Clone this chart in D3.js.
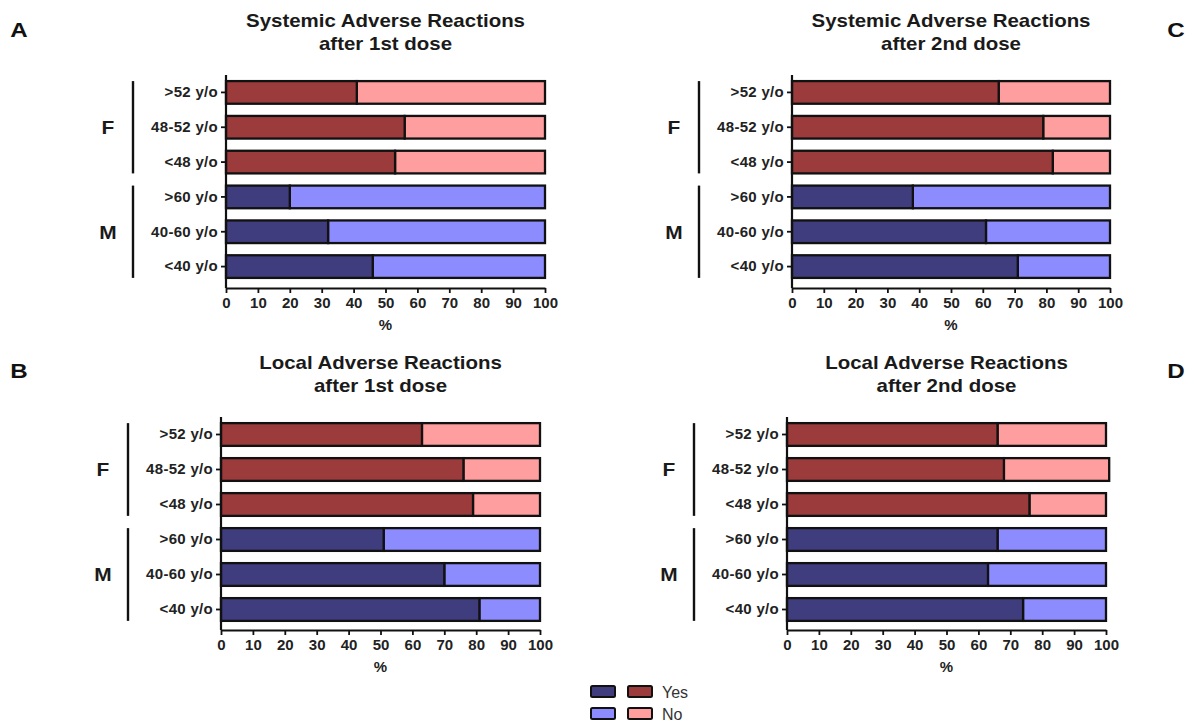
<!DOCTYPE html>
<html>
<head>
<meta charset="utf-8">
<script src="https://cdn.jsdelivr.net/npm/d3@7/dist/d3.min.js"></script>
<style>
  html, body { margin: 0; padding: 0; background: #fff; }
  svg { display: block; font-family: "Liberation Sans", Arial, Helvetica, sans-serif; }
</style>
</head>
<body>
<svg id="chart" width="1194" height="727"></svg>
<script>
// Age groups, top to bottom, and the sex each group belongs to
const ageGroups = [">52 y/o", "48-52 y/o", "<48 y/o", ">60 y/o", "40-60 y/o", "<40 y/o"];
const sexOfGroup = ["F", "F", "F", "M", "M", "M"];
const sexes = ["F", "M"];
const xTicks = [0, 10, 20, 30, 40, 50, 60, 70, 80, 90, 100];

// Percent reporting reactions (Yes) and not (No) per age group
const systemic1Yes = [41, 56, 53, 20, 32, 46];
const systemic1No  = [59, 44, 47, 80, 68, 54];
const local1Yes    = [63, 76, 79, 51, 70, 81];
const local1No     = [37, 24, 21, 49, 30, 19];
const systemic2Yes = [65, 79, 82, 38, 61, 71];
const systemic2No  = [35, 21, 18, 62, 39, 29];
const local2Yes    = [66, 68, 76, 66, 63, 74];
const local2No     = [34, 33, 24, 34, 37, 26];

const legendLabels = ["Yes", "No"];

const colors = {
  F: { yes: "#9c3b3c", no: "#ff9e9e" },
  M: { yes: "#403d7e", no: "#8c8cff" }
};

const svg = d3.select("#chart");
const FONT = "Liberation Sans, Arial, sans-serif";

function drawPanel(opt) {
  const g = svg.append("g");
  const x = d3.scaleLinear().domain([0, 100]).range([opt.x0, opt.x1]);
  const y = d3.scaleBand().domain(ageGroups).range([opt.yTop, opt.yBottom]).paddingInner(0.35).paddingOuter(0.175);

  // panel letter
  g.append("text").attr("transform", `translate(${opt.letterX},${opt.letterY}) scale(1.15,1)`)
    .attr("font-size", 21).attr("font-weight", "bold").attr("text-anchor", "middle")
    .attr("fill", "#111").text(opt.letter);

  // title, two lines (wide bold lettering)
  const tcx = (opt.x0 + opt.x1) / 2;
  opt.title.forEach((line, i) => {
    g.append("text").attr("transform", `translate(${tcx},${opt.titleY + i * 23}) scale(1.17,1)`)
      .attr("font-size", 17.5).attr("font-weight", "bold").attr("text-anchor", "middle")
      .attr("fill", "#1a1a1a").text(line);
  });

  // stacked bars
  const rows = ageGroups.map((a, i) => ({ age: a, sex: sexOfGroup[i], yes: opt.yes[i], no: opt.no[i] }));
  const bar = g.append("g").selectAll("g").data(rows).join("g");
  bar.append("rect")
    .attr("x", d => x(d.yes)).attr("y", d => y(d.age))
    .attr("width", d => x(d.yes + d.no) - x(d.yes)).attr("height", y.bandwidth())
    .attr("fill", d => colors[d.sex].no).attr("stroke", "#111").attr("stroke-width", 2.3);
  bar.append("rect")
    .attr("x", x(0)).attr("y", d => y(d.age))
    .attr("width", d => x(d.yes) - x(0)).attr("height", y.bandwidth())
    .attr("fill", d => colors[d.sex].yes).attr("stroke", "#111").attr("stroke-width", 2.3);

  // x axis
  const xAxis = g.append("g").attr("transform", `translate(0,${opt.axisY})`)
    .call(d3.axisBottom(x).tickValues(xTicks).tickSize(5).tickSizeOuter(0).tickFormat(d3.format("d")));
  xAxis.select(".domain").attr("stroke", "#111").attr("stroke-width", 2.2);
  xAxis.selectAll(".tick line").attr("stroke", "#111").attr("stroke-width", 1.8);
  xAxis.selectAll(".tick text").attr("font-size", 15).attr("font-weight", "bold")
    .attr("fill", "#222").attr("dy", "0.78em").style("font-family", FONT);

  g.append("text").attr("x", tcx).attr("y", opt.axisY + 42)
    .attr("font-size", 15).attr("font-weight", "bold").attr("text-anchor", "middle")
    .attr("fill", "#222").text("%");

  // y axis
  const yAxis = g.append("g").attr("transform", `translate(${opt.x0},0)`)
    .call(d3.axisLeft(y).tickSize(5).tickSizeOuter(0));
  yAxis.select(".domain").attr("d", `M0,${opt.yTop}V${opt.axisY}`)
    .attr("stroke", "#111").attr("stroke-width", 2.2);
  yAxis.selectAll(".tick line").attr("stroke", "#111").attr("stroke-width", 1.8);
  yAxis.selectAll(".tick text").attr("font-size", 15).attr("font-weight", "bold")
    .attr("fill", "#222").attr("x", -8).attr("letter-spacing", 0.3).style("font-family", FONT);

  // sex brackets with labels
  sexes.forEach(s => {
    const groups = ageGroups.filter((a, i) => sexOfGroup[i] === s);
    const top = y(groups[0]);
    const bottom = y(groups[groups.length - 1]) + y.bandwidth();
    g.append("line").attr("x1", opt.x0 - 93).attr("x2", opt.x0 - 93)
      .attr("y1", top).attr("y2", bottom)
      .attr("stroke", "#111").attr("stroke-width", 2.4);
    g.append("text").attr("transform", `translate(${opt.x0 - 118},${(top + bottom) / 2}) scale(1.1,1)`)
      .attr("dy", "0.36em").attr("font-size", 19).attr("font-weight", "bold")
      .attr("text-anchor", "middle").attr("fill", "#1a1a1a").text(s);
  });
}

drawPanel({ letter: "A", letterX: 19, letterY: 37, title: ["Systemic Adverse Reactions", "after 1st dose"], titleY: 27,
  x0: 226, x1: 545, yTop: 75, yBottom: 284, axisY: 288, yes: systemic1Yes, no: systemic1No });
drawPanel({ letter: "C", letterX: 1176, letterY: 37, title: ["Systemic Adverse Reactions", "after 2nd dose"], titleY: 27,
  x0: 792, x1: 1110, yTop: 75, yBottom: 284, axisY: 288, yes: systemic2Yes, no: systemic2No });
drawPanel({ letter: "B", letterX: 19, letterY: 378, title: ["Local Adverse Reactions", "after 1st dose"], titleY: 369,
  x0: 221, x1: 540, yTop: 417, yBottom: 627, axisY: 630, yes: local1Yes, no: local1No });
drawPanel({ letter: "D", letterX: 1176, letterY: 378, title: ["Local Adverse Reactions", "after 2nd dose"], titleY: 369,
  x0: 787, x1: 1106, yTop: 417, yBottom: 627, axisY: 630, yes: local2Yes, no: local2No });

// legend: M and F swatches per answer
const legend = svg.append("g");
legendLabels.forEach((lab, i) => {
  const key = lab === "Yes" ? "yes" : "no";
  sexes.slice().reverse().forEach((s, j) => {
    legend.append("rect").attr("x", 591 + j * 37).attr("y", 686 + i * 22)
      .attr("width", 24).attr("height", 11).attr("rx", 1.5)
      .attr("fill", colors[s][key]).attr("stroke", "#111").attr("stroke-width", 2);
  });
  legend.append("text").attr("x", 662).attr("y", 698 + i * 22)
    .attr("font-size", 16).attr("fill", "#333").text(lab);
});
</script>
</body>
</html>
